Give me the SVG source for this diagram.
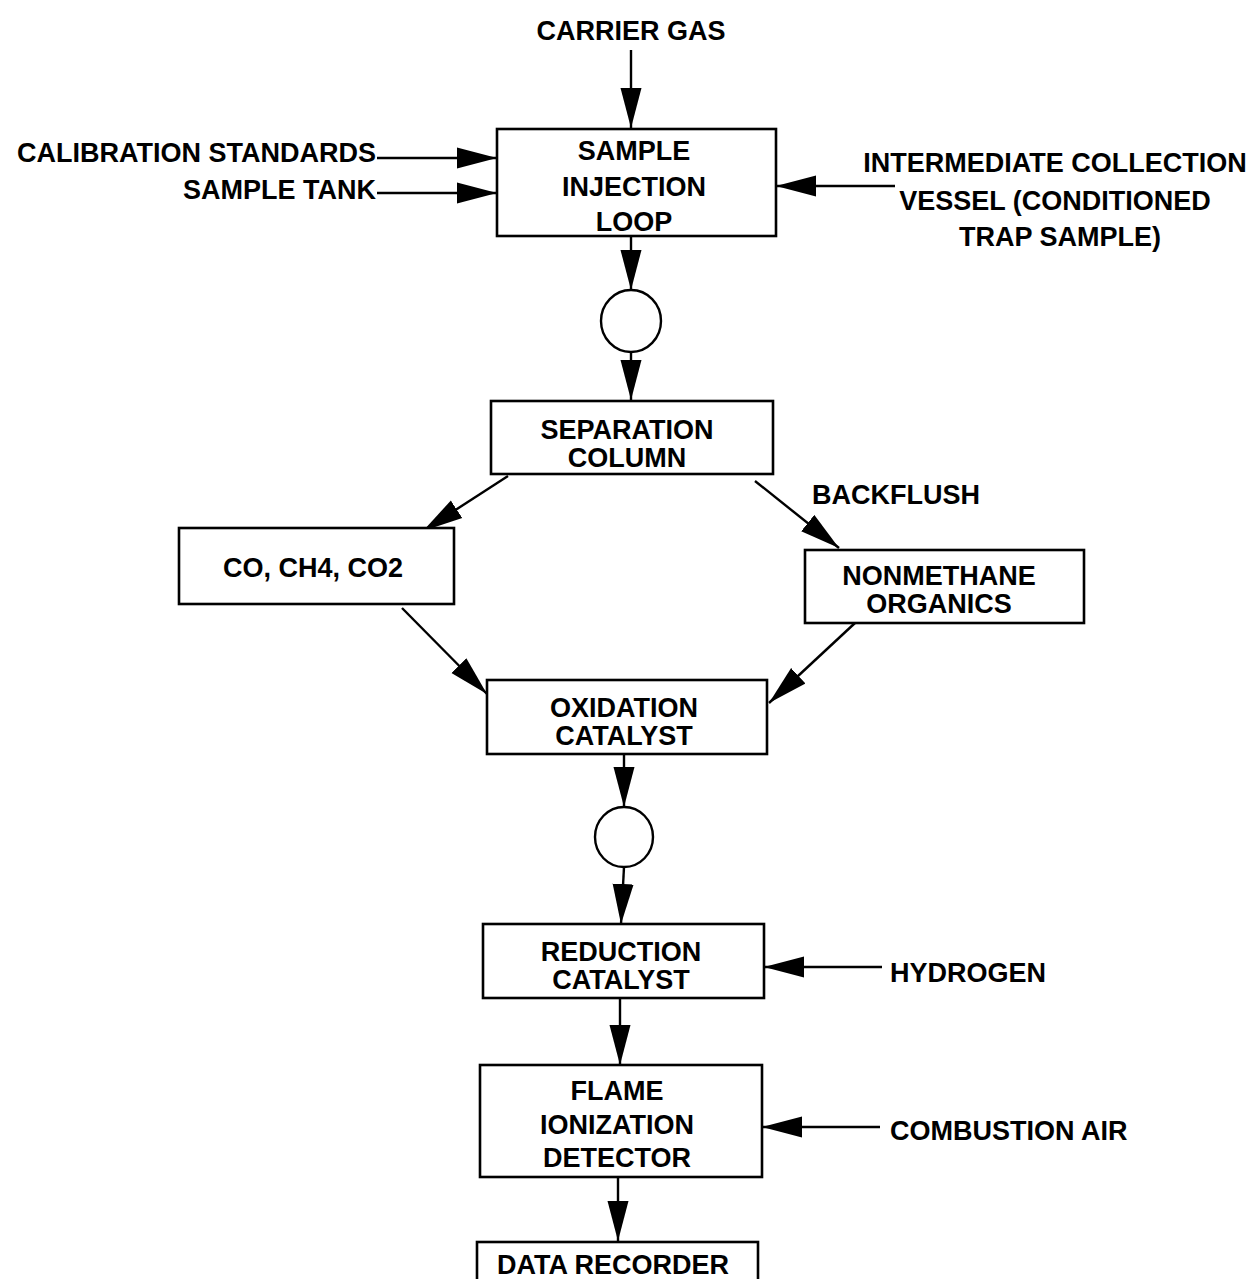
<svg xmlns="http://www.w3.org/2000/svg" width="1252" height="1279" viewBox="0 0 1252 1279">
<style>
.box{fill:#fff;stroke:#000;stroke-width:2.6}
.c{fill:#fff;stroke:#000;stroke-width:2.4}
.t{font-family:"Liberation Sans",Arial,sans-serif;font-weight:bold;font-size:27px;fill:#000}
.m{text-anchor:middle}
.e{text-anchor:end}
.ln{stroke:#000;stroke-width:2.4;fill:none;marker-end:url(#ah)}
</style>
<defs>
<marker id="ah" markerUnits="userSpaceOnUse" markerWidth="40" markerHeight="22" refX="40" refY="11" orient="auto">
<path d="M0,0.5 L40,11 L0,21.5 z" fill="#000"/>
</marker>
</defs>
<rect width="1252" height="1279" fill="#fff"/>
<g id="connectors">
<line class="ln" x1="631" y1="50" x2="631" y2="128"/>
<line class="ln" x1="377" y1="158" x2="497" y2="158"/>
<line class="ln" x1="377" y1="193" x2="497" y2="193"/>
<line class="ln" x1="895" y1="186" x2="776" y2="186"/>
<line class="ln" x1="631" y1="237" x2="631" y2="290"/>
<line class="ln" x1="631" y1="352" x2="631" y2="400"/>
<line class="ln" x1="508" y1="476" x2="423" y2="531"/>
<line class="ln" x1="755" y1="481" x2="839" y2="548"/>
<line class="ln" x1="402" y1="608" x2="487" y2="694"/>
<line class="ln" x1="855" y1="623" x2="769" y2="703"/>
<line class="ln" x1="624" y1="754" x2="624" y2="807"/>
<line class="ln" x1="624" y1="867" x2="621" y2="924"/>
<line class="ln" x1="882" y1="967" x2="764" y2="967"/>
<line class="ln" x1="620" y1="998" x2="620" y2="1065"/>
<line class="ln" x1="880" y1="1127" x2="762" y2="1127"/>
<line class="ln" x1="618" y1="1177" x2="618" y2="1241"/>
</g>
<g id="labels">
<text class="t m" x="631" y="40">CARRIER GAS</text>
<text class="t e" x="376" y="162">CALIBRATION STANDARDS</text>
<text class="t e" x="376" y="199">SAMPLE TANK</text>
<text class="t m" x="1055" y="172">INTERMEDIATE COLLECTION</text>
<text class="t m" x="1055" y="210">VESSEL (CONDITIONED</text>
<text class="t m" x="1060" y="246">TRAP SAMPLE)</text>
<text class="t" x="812" y="504">BACKFLUSH</text>
<text class="t" x="890" y="982">HYDROGEN</text>
<text class="t" x="890" y="1140">COMBUSTION AIR</text>
</g>
<g id="injection">
<rect class="box" x="497" y="129" width="279" height="107"/>
<text class="t m" x="634" y="160">SAMPLE</text>
<text class="t m" x="634" y="196">INJECTION</text>
<text class="t m" x="634" y="231">LOOP</text>
</g>
<g id="junction1"><ellipse class="c" cx="631" cy="321" rx="30" ry="31"/></g>
<g id="separation">
<rect class="box" x="491" y="401" width="282" height="73"/>
<text class="t m" x="627" y="439">SEPARATION</text>
<text class="t m" x="627" y="467">COLUMN</text>
</g>
<g id="co">
<rect class="box" x="179" y="528" width="275" height="76"/>
<text class="t m" x="313" y="577">CO, CH4, CO2</text>
</g>
<g id="nonmethane">
<rect class="box" x="805" y="550" width="279" height="73"/>
<text class="t m" x="939" y="585">NONMETHANE</text>
<text class="t m" x="939" y="613">ORGANICS</text>
</g>
<g id="oxidation">
<rect class="box" x="487" y="680" width="280" height="74"/>
<text class="t m" x="624" y="717">OXIDATION</text>
<text class="t m" x="624" y="745">CATALYST</text>
</g>
<g id="junction2"><ellipse class="c" cx="624" cy="837" rx="29" ry="30"/></g>
<g id="reduction">
<rect class="box" x="483" y="924" width="281" height="74"/>
<text class="t m" x="621" y="961">REDUCTION</text>
<text class="t m" x="621" y="989">CATALYST</text>
</g>
<g id="fid">
<rect class="box" x="480" y="1065" width="282" height="112"/>
<text class="t m" x="617" y="1100">FLAME</text>
<text class="t m" x="617" y="1134">IONIZATION</text>
<text class="t m" x="617" y="1167">DETECTOR</text>
</g>
<g id="recorder">
<rect class="box" x="477" y="1242" width="281" height="40"/>
<text class="t m" x="613" y="1274">DATA RECORDER</text>
</g>
</svg>
